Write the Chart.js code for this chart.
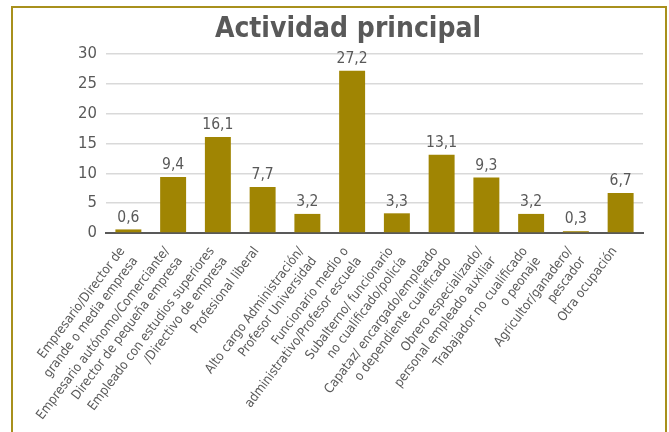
<!DOCTYPE html>
<html>
<head>
<meta charset="utf-8">
<script src="https://cdn.jsdelivr.net/npm/chart.js@4/dist/chart.umd.min.js"></script>
<style>
  html, body { margin: 0; padding: 0; background: #fff; }
  body { width: 669px; height: 432px; position: relative; overflow: hidden; }
  #frame { position: absolute; left: 11px; top: 6px; width: 652px; height: 480px; border: 2px solid #a8901c; }
  #wrap { position: absolute; left: 0; top: 0; width: 669px; height: 432px; }
</style>
</head>
<body>
<div id="frame"></div>
<div id="wrap"><canvas id="bar-chart"></canvas></div>
<script>
var FONT = "'Liberation Sans Narrow', 'DejaVu Sans Condensed', 'Liberation Sans', sans-serif";
var GREY = "#595959";

var titulo = "Actividad principal";
var categorias = [
  ["Empresario/Director de", "grande o media empresa"],
  ["Empresario autónomo/Comerciante/", "Director de pequeña empresa"],
  ["Empleado con estudios superiores", "/Directivo de empresa"],
  "Profesional liberal",
  ["Alto cargo Administración/", "Profesor Universidad"],
  ["Funcionario medio o", "administrativo/Profesor escuela"],
  ["Subalterno/ funcionario", "no cualificado/policía"],
  ["Capataz/ encargado/empleado", "o dependiente cualificado"],
  ["Obrero especializado/", "personal empleado auxiliar"],
  ["Trabajador no cualificado", "o peonaje"],
  ["Agricultor/ganadero/", "pescador"],
  "Otra ocupación"
];
var porcentajes = [0.6, 9.4, 16.1, 7.7, 3.2, 27.2, 3.3, 13.1, 9.3, 3.2, 0.3, 6.7];
var escalaY = [0, 5, 10, 15, 20, 25, 30];

// título un poco desplazado a la derecha, como en el original
var cabecera = {
  id: 'cabecera',
  afterDraw: function(chart) {
    var ctx = chart.ctx;
    ctx.save();
    ctx.font = "bold 28px " + FONT;
    ctx.fillStyle = GREY;
    ctx.textAlign = "center";
    ctx.textBaseline = "alphabetic";
    ctx.fillText(titulo, 348, 37);
    ctx.restore();
  }
};

// valores encima de cada barra, con coma decimal
var etiquetas = {
  id: 'etiquetas',
  afterDatasetsDraw: function(chart) {
    var ctx = chart.ctx;
    var meta = chart.getDatasetMeta(0);
    ctx.save();
    ctx.font = "15.5px " + FONT;
    ctx.fillStyle = GREY;
    ctx.textAlign = "center";
    ctx.textBaseline = "bottom";
    meta.data.forEach(function(bar, i) {
      var txt = porcentajes[i].toFixed(1).replace(".", ",");
      ctx.fillText(txt, bar.x, bar.y - 4);
    });
    ctx.restore();
  }
};

new Chart(document.getElementById("bar-chart"), {
  type: 'bar',
  data: {
    labels: categorias,
    datasets: [{
      data: porcentajes,
      backgroundColor: "#a08503",
      categoryPercentage: 1,
      barPercentage: 0.58
    }]
  },
  plugins: [etiquetas, cabecera],
  options: {
    responsive: true,
    maintainAspectRatio: false,
    animation: false,
    layout: { padding: { left: 20, right: 26, top: 54, bottom: 0 } },
    plugins: {
      legend: { display: false },
      tooltip: { enabled: false },
      title: { display: false }
    },
    scales: {
      x: {
        grid: { display: false, drawTicks: false },
        border: { color: GREY, width: 2 },
        ticks: {
          color: GREY,
          font: { family: FONT, size: 13, lineHeight: 1.25 },
          minRotation: 53,
          maxRotation: 53,
          autoSkip: false,
          labelOffset: -6,
          padding: 11
        },
        afterFit: function(scale) { scale.height = 199; }
      },
      y: {
        min: 0,
        max: 30,
        afterBuildTicks: function(scale) {
          scale.ticks = escalaY.map(function(v) { return { value: v }; });
        },
        grid: { color: "#d9d9d9", lineWidth: 1.5, drawTicks: false },
        border: { display: false },
        ticks: {
          color: GREY,
          font: { family: FONT, size: 16.5 },
          padding: 9
        },
        afterFit: function(scale) { scale.width = 86; }
      }
    }
  }
});
</script>
</body>
</html>
